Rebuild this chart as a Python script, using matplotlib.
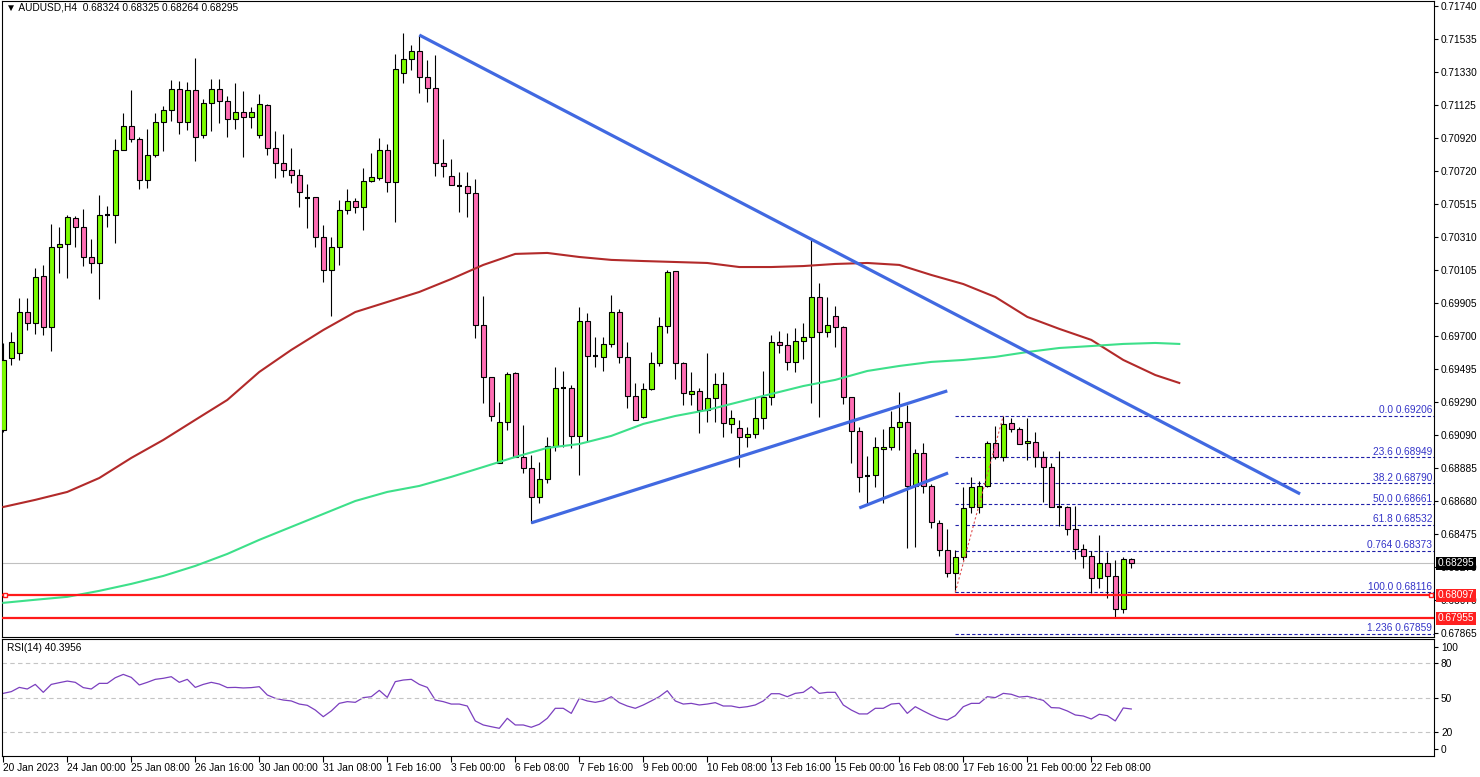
import matplotlib
matplotlib.use("Agg")
from matplotlib import pyplot as plt
import numpy as np

plt.rcParams['font.family'] = ['Liberation Sans', 'DejaVu Sans']

# AUDUSD H4 candles (one per bar, bar 0 = 20 Jan 2023 16:00)
opens = [0.69119, 0.69563, 0.69594, 0.69847, 0.69780, 0.70070, 0.69755, 0.70249, 0.70267, 0.70428,
         0.70372, 0.70187, 0.70150, 0.70446, 0.70446, 0.70848, 0.70996, 0.70916, 0.70663, 0.70817,
         0.71021, 0.71095, 0.71224, 0.71021, 0.71218, 0.70940, 0.71138, 0.71224, 0.71150, 0.71039,
         0.71082, 0.71052, 0.70940, 0.71126, 0.70860, 0.70767, 0.70724, 0.70693, 0.70551, 0.70558,
         0.70311, 0.70107, 0.70249, 0.70477, 0.70533, 0.70496, 0.70656, 0.70675, 0.70848, 0.70650,
         0.71323, 0.71410, 0.71459, 0.71299, 0.71231, 0.70767, 0.70687, 0.70625, 0.70625, 0.70582,
         0.69767, 0.69446, 0.68915, 0.69168, 0.69471, 0.68952, 0.68884, 0.68705, 0.68816, 0.69020,
         0.69378, 0.69378, 0.69082, 0.69792, 0.69576, 0.69570, 0.69650, 0.69847, 0.69570, 0.69329,
         0.69199, 0.69372, 0.69532, 0.69761, 0.70101, 0.69532, 0.69341, 0.69360, 0.69242, 0.69316,
         0.69403, 0.69156, 0.69131, 0.69076, 0.69094, 0.69193, 0.69323, 0.69662, 0.69644, 0.69539,
         0.69668, 0.69693, 0.69940, 0.69724, 0.69823, 0.69755, 0.69323, 0.69113, 0.68835, 0.68841,
         0.69001, 0.69014, 0.69137, 0.69168, 0.68773, 0.68977, 0.68773, 0.68545, 0.68378, 0.68236,
         0.68335, 0.68643, 0.68643, 0.68773, 0.69038, 0.68952, 0.69162, 0.69125, 0.69038, 0.69045,
         0.68952, 0.68890, 0.68643, 0.68643, 0.68507, 0.68384, 0.68341, 0.68205, 0.68298, 0.68217,
         0.68013, 0.68324]
highs = [0.69656, 0.69724, 0.69934, 0.69934, 0.70119, 0.70138, 0.70391, 0.70372, 0.70446, 0.70440,
         0.70483, 0.70298, 0.70570, 0.70502, 0.70916, 0.71076, 0.71218, 0.70928, 0.70977, 0.71076,
         0.71119, 0.71280, 0.71274, 0.71268, 0.71416, 0.71163, 0.71286, 0.71286, 0.71181, 0.71261,
         0.71212, 0.71113, 0.71194, 0.71132, 0.70965, 0.70947, 0.70860, 0.70730, 0.70638, 0.70558,
         0.70385, 0.70311, 0.70539, 0.70607, 0.70551, 0.70737, 0.70829, 0.70922, 0.70885, 0.71441,
         0.71570, 0.71496, 0.71558, 0.71404, 0.71434, 0.70916, 0.70792, 0.70712, 0.70712, 0.70669,
         0.69946, 0.69446, 0.69292, 0.69477, 0.69477, 0.69150, 0.68964, 0.68921, 0.69076, 0.69508,
         0.69483, 0.69397, 0.69878, 0.69841, 0.69693, 0.69693, 0.69952, 0.69866, 0.69662, 0.69409,
         0.69409, 0.69600, 0.69817, 0.70107, 0.70101, 0.69539, 0.69477, 0.69378, 0.69594, 0.69471,
         0.69477, 0.69242, 0.69181, 0.69137, 0.69323, 0.69483, 0.69705, 0.69730, 0.69718, 0.69749,
         0.69780, 0.70292, 0.70027, 0.69940, 0.69884, 0.69761, 0.69323, 0.69137, 0.68958, 0.69076,
         0.69125, 0.69236, 0.69353, 0.69273, 0.69001, 0.69038, 0.68785, 0.68563, 0.68507, 0.68378,
         0.68767, 0.68829, 0.68804, 0.69051, 0.69143, 0.69206, 0.69193, 0.69137, 0.69193, 0.69106,
         0.68989, 0.68915, 0.68989, 0.68649, 0.68649, 0.68415, 0.68372, 0.68470, 0.68365, 0.68316,
         0.68335, 0.68325]
lows = [0.69106, 0.69520, 0.69551, 0.69736, 0.69712, 0.69705, 0.69607, 0.70088, 0.70057, 0.70249,
        0.70131, 0.70088, 0.69928, 0.70372, 0.70273, 0.70848, 0.70897, 0.70607, 0.70613, 0.70805,
        0.70842, 0.71027, 0.70947, 0.70971, 0.70780, 0.70922, 0.70965, 0.71014, 0.70928, 0.70977,
        0.70805, 0.70984, 0.70922, 0.70817, 0.70675, 0.70681, 0.70644, 0.70496, 0.70366, 0.70249,
        0.70033, 0.69823, 0.70138, 0.70453, 0.70459, 0.70354, 0.70650, 0.70663, 0.70588, 0.70403,
        0.71261, 0.71342, 0.71200, 0.71144, 0.70687, 0.70681, 0.70632, 0.70465, 0.70434, 0.69687,
        0.69286, 0.69174, 0.68915, 0.69119, 0.68952, 0.68853, 0.68545, 0.68668, 0.68792, 0.68989,
        0.69014, 0.69008, 0.68841, 0.69045, 0.69508, 0.69483, 0.69631, 0.69532, 0.69255, 0.69181,
        0.69193, 0.69366, 0.69514, 0.69718, 0.69434, 0.69273, 0.69273, 0.69100, 0.69168, 0.69168,
        0.69076, 0.69100, 0.68890, 0.69014, 0.69069, 0.69125, 0.69273, 0.69594, 0.69489, 0.69477,
        0.69557, 0.69286, 0.69199, 0.69693, 0.69631, 0.69279, 0.68915, 0.68736, 0.68668, 0.68767,
        0.68668, 0.68995, 0.68995, 0.68390, 0.68396, 0.68730, 0.68514, 0.68341, 0.68211, 0.68116,
        0.68316, 0.68606, 0.68606, 0.68767, 0.68940, 0.68927, 0.69106, 0.69032, 0.68934, 0.68890,
        0.68674, 0.68643, 0.68526, 0.68470, 0.68322, 0.68267, 0.68112, 0.68143, 0.68081, 0.67958,
        0.67989, 0.68264]
closes = [0.69551, 0.69662, 0.69847, 0.69780, 0.70064, 0.69755, 0.70249, 0.70267, 0.70434, 0.70372,
          0.70187, 0.70150, 0.70446, 0.70446, 0.70848, 0.70996, 0.70916, 0.70663, 0.70817, 0.71021,
          0.71095, 0.71224, 0.71021, 0.71218, 0.70928, 0.71138, 0.71224, 0.71150, 0.71039, 0.71082,
          0.71052, 0.71082, 0.71132, 0.70860, 0.70767, 0.70724, 0.70693, 0.70588, 0.70551, 0.70311,
          0.70107, 0.70249, 0.70477, 0.70533, 0.70496, 0.70656, 0.70681, 0.70848, 0.70650, 0.71348,
          0.71410, 0.71459, 0.71299, 0.71231, 0.70767, 0.70749, 0.70632, 0.70625, 0.70582, 0.69767,
          0.69446, 0.69205, 0.69168, 0.69465, 0.68952, 0.68884, 0.68705, 0.68816, 0.69020, 0.69378,
          0.69378, 0.69082, 0.69792, 0.69576, 0.69576, 0.69650, 0.69847, 0.69570, 0.69329, 0.69181,
          0.69372, 0.69532, 0.69761, 0.70094, 0.69532, 0.69347, 0.69360, 0.69242, 0.69316, 0.69403,
          0.69162, 0.69193, 0.69076, 0.69094, 0.69193, 0.69323, 0.69662, 0.69644, 0.69539, 0.69668,
          0.69693, 0.69940, 0.69724, 0.69767, 0.69755, 0.69323, 0.69113, 0.68829, 0.68835, 0.69014,
          0.69014, 0.69137, 0.69168, 0.68773, 0.68977, 0.68773, 0.68551, 0.68378, 0.68236, 0.68335,
          0.68637, 0.68767, 0.68773, 0.69038, 0.68952, 0.69156, 0.69125, 0.69032, 0.69051, 0.68952,
          0.68890, 0.68643, 0.68643, 0.68507, 0.68384, 0.68341, 0.68205, 0.68298, 0.68217, 0.68013,
          0.68324, 0.68295]

# moving averages, read every 4 bars (they run a few bars past the last candle)
ma_bars = [0, 4, 8, 12, 16, 20, 24, 28, 32, 36, 40, 44, 48, 52, 56, 60, 64, 68, 72,
           76, 80, 84, 88, 92, 96, 100, 104, 108, 112, 116, 120, 124, 128, 132, 136, 140, 144, 147]
ma_red = [0.68643, 0.68687, 0.68736, 0.68822, 0.68946, 0.69057, 0.69181, 0.69304, 0.69477, 0.69613,
          0.69736, 0.69847, 0.69909, 0.69971, 0.70051, 0.70138, 0.70206, 0.70212, 0.70187, 0.70169,
          0.70162, 0.70156, 0.70150, 0.70125, 0.70125, 0.70131, 0.70144, 0.70150, 0.70138, 0.70076,
          0.70020, 0.69940, 0.69817, 0.69743, 0.69675, 0.69551, 0.69458, 0.69409]
ma_green = [0.68051, 0.68070, 0.68088, 0.68125, 0.68168, 0.68217, 0.68279, 0.68353, 0.68440, 0.68520,
            0.68600, 0.68680, 0.68736, 0.68773, 0.68829, 0.68890, 0.68952, 0.69008, 0.69032, 0.69082,
            0.69156, 0.69205, 0.69242, 0.69292, 0.69341, 0.69390, 0.69428, 0.69483, 0.69514, 0.69539,
            0.69551, 0.69570, 0.69600, 0.69625, 0.69637, 0.69650, 0.69656, 0.69650]

rsi = [53.6, 55.1, 58.8, 57.4, 61.4, 54.5, 61.4, 62.9, 64.3, 63.2,
       58.6, 57.4, 62.3, 62.3, 67.2, 70.1, 67.5, 60.9, 63.2, 65.8,
       66.7, 68.1, 63.2, 65.8, 58.8, 61.4, 63.2, 61.7, 58.6, 58.8,
       58.3, 58.6, 59.4, 52.2, 49.3, 47.8, 47.0, 44.3, 43.2, 39.1,
       33.3, 38.3, 44.9, 46.4, 45.8, 49.9, 50.7, 56.2, 50.1, 63.8,
       65.2, 65.8, 61.4, 58.8, 47.8, 46.4, 44.3, 44.3, 42.6, 29.6,
       26.1, 24.6, 23.2, 31.9, 26.1, 26.1, 24.1, 26.7, 31.9, 40.6,
       40.6, 36.2, 49.3, 47.0, 45.8, 47.2, 50.7, 45.5, 42.6, 40.6,
       43.5, 47.0, 50.7, 55.9, 47.0, 44.3, 44.9, 43.5, 44.3, 45.5,
       42.6, 42.6, 41.2, 42.0, 43.5, 47.0, 53.3, 53.3, 50.7, 53.6,
       54.5, 59.4, 53.6, 54.5, 54.5, 43.5, 39.1, 35.7, 35.7, 40.6,
       40.6, 44.3, 44.9, 36.2, 42.0, 38.3, 34.8, 31.9, 30.4, 34.2,
       42.0, 44.9, 44.9, 50.7, 49.9, 53.6, 52.8, 50.4, 51.0, 49.3,
       47.5, 41.2, 40.9, 38.3, 34.8, 33.9, 31.3, 35.4, 34.2, 29.6,
       40.9, 40.0]

# trend lines drawn on the chart: (bar, price) -> (bar, price)
trend_lines = [((52, 0.71558), (162.1, 0.68724)),
               ((66, 0.68545), (118, 0.69360)),
               ((107, 0.68637), (118.1, 0.68853))]

fib_levels = [0.69206, 0.68949, 0.68790, 0.68661, 0.68532, 0.68373, 0.68116, 0.67859]
fib_names = ["0.0", "23.6", "38.2", "50.0", "61.8", "0.764", "100.0", "1.236"]
support_levels = [0.68097, 0.67955]
last_price = 0.68295

price_ticks = [0.71740, 0.71535, 0.71330, 0.71125, 0.70920, 0.70720, 0.70515, 0.70310, 0.70105,
               0.69905, 0.69700, 0.69495, 0.69290, 0.69090, 0.68885, 0.68680, 0.68475, 0.68270,
               0.68070, 0.67865]
x_labels = ["20 Jan 2023", "24 Jan 00:00", "25 Jan 08:00", "26 Jan 16:00", "30 Jan 00:00",
            "31 Jan 08:00", "1 Feb 16:00", "3 Feb 00:00", "6 Feb 08:00", "7 Feb 16:00",
            "9 Feb 00:00", "10 Feb 08:00", "13 Feb 16:00", "15 Feb 00:00", "16 Feb 08:00",
            "17 Feb 16:00", "21 Feb 00:00", "22 Feb 08:00"]

W, H = 1480, 777
FS = 7.3
fig = plt.figure(figsize=(W / 100, H / 100), dpi=100)
ax = fig.add_axes([2 / W, 1 - 637 / H, 1432 / W, 636 / H])
rax = fig.add_axes([2 / W, 1 - 756 / H, 1432 / W, 117 / H])

x_left, x_right = -0.16, 178.84

# candles
o = np.array(opens); h = np.array(highs); l = np.array(lows); c = np.array(closes)
x = np.arange(len(o))
up = c > o
dn = c < o
fl = c == o
ax.vlines(x, l, h, color='black', lw=0.8, zorder=3)
ax.bar(x[up], c[up] - o[up], bottom=o[up], width=0.62, color='#7cfc00',
       edgecolor='black', lw=0.8, zorder=4)
ax.bar(x[dn], o[dn] - c[dn], bottom=c[dn], width=0.62, color='#ff6eb4',
       edgecolor='black', lw=0.8, zorder=4)
ax.hlines(c[fl], x[fl] - 0.31, x[fl] + 0.31, color='black', lw=1.5, zorder=4)

# moving averages
ax.plot(ma_bars, ma_red, color='#b22a2a', lw=1.5, zorder=5)
ax.plot(ma_bars, ma_green, color='#3de08a', lw=1.5, zorder=5)

# trend lines
for (x0, y0), (x1, y1) in trend_lines:
    ax.plot([x0, x1], [y0, y1], color='#4169e1', lw=2.3, zorder=6, solid_capstyle='butt')

# current price + support lines
ax.axhline(last_price, color='#c0c0c0', lw=0.8, zorder=1)
ax.hlines(support_levels, x_left, x_right, color='#ff1a1a', lw=1.6, zorder=6)
ax.plot([0.25, 178.5], [support_levels[0]] * 2, ls='none', marker='s', ms=3.5,
        mfc='white', mec='#ff1a1a', mew=1, zorder=7, clip_on=False)

# fibonacci retracement
ax.hlines(fib_levels, 119, x_right, colors='#1f1fa8', linestyles=(0, (3, 2)), lw=0.8, zorder=2)
for name, lvl in zip(fib_names, fib_levels):
    ax.text(178.6, lvl + 0.00003, f"{name} {lvl:.5f}", ha='right', va='bottom',
            color='#3434c8', fontsize=FS, zorder=7)
ax.plot([119, 125], [fib_levels[6], fib_levels[0]], color='#e05050', ls=(0, (2, 2)), lw=0.8, zorder=6)

ax.set_xlim(x_left, x_right)
ax.set_ylim(0.67840, 0.71768)
ax.set_xticks([])
ax.yaxis.tick_right()
ax.set_yticks(price_ticks)
ax.set_yticklabels([f"{p:.5f}" for p in price_ticks])
ax.tick_params(axis='y', length=3, width=0.8, pad=2, labelsize=FS)
for s in ax.spines.values():
    s.set_linewidth(0.8)

for val, bg in [(last_price, 'black'), (support_levels[0], '#ff2020'), (support_levels[1], '#ff2020')]:
    ax.text(1.0028, val, f"{val:.5f}", transform=ax.get_yaxis_transform(), ha='left', va='center',
            color='white', fontsize=FS, zorder=10, clip_on=False,
            bbox=dict(boxstyle='square,pad=0.15', fc=bg, ec='none'))

fig.text(6 / W, 1 - 8 / H, "\u25bc AUDUSD,H4  0.68324 0.68325 0.68264 0.68295", va='center',
         fontsize=FS)

# RSI panel
rax.plot(np.arange(len(rsi)), rsi, color='#7b3fbf', lw=0.9)
for lvl in [20, 50, 80]:
    rax.axhline(lvl, color='#c4c4c4', lw=0.8, ls=(0, (4, 3)))
rax.set_xlim(x_left, x_right)
rax.set_ylim(-0.9, 100.9)
rax.yaxis.tick_right()
rax.set_yticks([5.2, 20, 50, 80, 93.9])
rax.set_yticklabels(['0', '20', '50', '80', '100'])
rax.tick_params(axis='y', length=3, width=0.8, pad=2, labelsize=FS)
rax.set_xticks(np.arange(0, 8 * len(x_labels), 8))
rax.set_xticklabels(x_labels, ha='left')
rax.tick_params(axis='x', length=4, width=0.8, pad=1, labelsize=FS)
for s in rax.spines.values():
    s.set_linewidth(0.8)
fig.text(7 / W, 1 - 648 / H, "RSI(14) 40.3956", va='center', fontsize=FS)

fig.savefig("out.png", dpi=100, facecolor='white')
